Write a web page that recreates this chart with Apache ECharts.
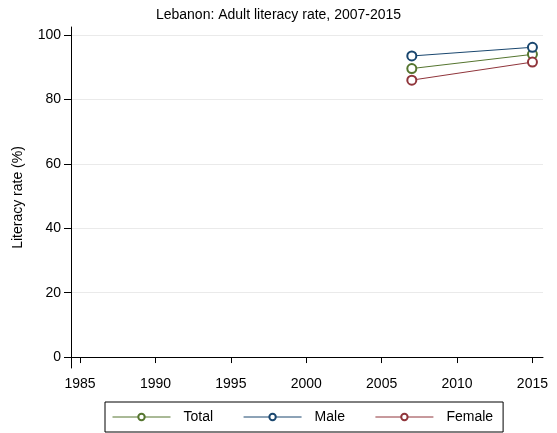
<!DOCTYPE html>
<html>
<head>
<meta charset="UTF-8">
<title>Lebanon literacy</title>
<script src="https://cdn.jsdelivr.net/npm/echarts@6/dist/echarts.min.js"></script>
<style>
  html, body { margin: 0; padding: 0; background: #fff; }
  #main { width: 557px; height: 433px; }
</style>
</head>
<body>
<div id="main"></div>
<script>
// data
var years = [2007, 2015];
var total = [89.6, 94.0];
var male = [93.5, 96.2];
var female = [86.0, 91.6];
var xTicks = [1985, 1990, 1995, 2000, 2005, 2010, 2015];
var yTicks = [0, 20, 40, 60, 80, 100];

function pairs(vals) {
    var out = [];
    for (var i = 0; i < years.length; i++) out.push([years[i], vals[i]]);
    return out;
}

var font = 'Liberation Sans, Arial, sans-serif';
var myChart = echarts.init(document.getElementById('main'));

function line(name, vals, color) {
    return {
        name: name,
        type: 'line',
        data: pairs(vals),
        symbol: 'emptyCircle',
        symbolSize: 9,
        color: color,
        lineStyle: { width: 1, color: color },
        itemStyle: { color: color, borderColor: color, borderWidth: 1 },
        emphasis: { disabled: true },
        animation: false
    };
}

var option = {
    backgroundColor: '#fff',
    textStyle: { fontFamily: font },
    title: {
        text: 'Lebanon: Adult literacy rate, 2007-2015',
        left: 'center',
        top: 3,
        textStyle: { fontSize: 14, fontWeight: 'normal', color: '#000', fontFamily: font }
    },
    grid: { left: 71, right: 14, top: 27, bottom: 65 },
    legend: {
        bottom: 1,
        left: 105,
        itemWidth: 58,
        itemHeight: 8,
        itemGap: 30,
        padding: [8, 10, 8, 7],
        borderColor: '#000',
        borderWidth: 1,
        itemStyle: { borderWidth: 1 },
        lineStyle: { width: 1 },
        textStyle: { fontSize: 14, color: '#000', fontFamily: font, padding: [0, 0, 0, 8] },
        data: ['Total', 'Male', 'Female']
    },
    xAxis: {
        type: 'value',
        min: 1984.4,
        max: 2015.7,
        axisLine: { show: true, lineStyle: { color: '#000', width: 1 } },
        axisTick: { show: true, length: 6, customValues: xTicks, lineStyle: { color: '#000' } },
        axisLabel: {
            customValues: xTicks, fontSize: 14, color: '#000', margin: 9, fontFamily: font,
            formatter: function (v) { return String(v); }
        },
        splitLine: { show: false }
    },
    yAxis: {
        type: 'value',
        min: -3.4,
        max: 102.5,
        name: 'Literacy rate (%)',
        nameLocation: 'middle',
        nameGap: 46,
        nameTextStyle: { fontSize: 14, color: '#000', fontFamily: font },
        axisLine: { show: true, lineStyle: { color: '#000', width: 1 } },
        axisTick: { show: true, length: 7, customValues: yTicks, lineStyle: { color: '#000' } },
        axisLabel: {
            customValues: yTicks, fontSize: 14, color: '#000', margin: 10, fontFamily: font,
            formatter: function (v) { return String(v); }
        },
        splitLine: { show: true, lineStyle: { color: '#eaeaea', width: 1 } }
    },
    series: [
        line('Total', total, '#55752f'),
        line('Male', male, '#1a476f'),
        line('Female', female, '#90353b')
    ]
};

myChart.setOption(option);
</script>
</body>
</html>
